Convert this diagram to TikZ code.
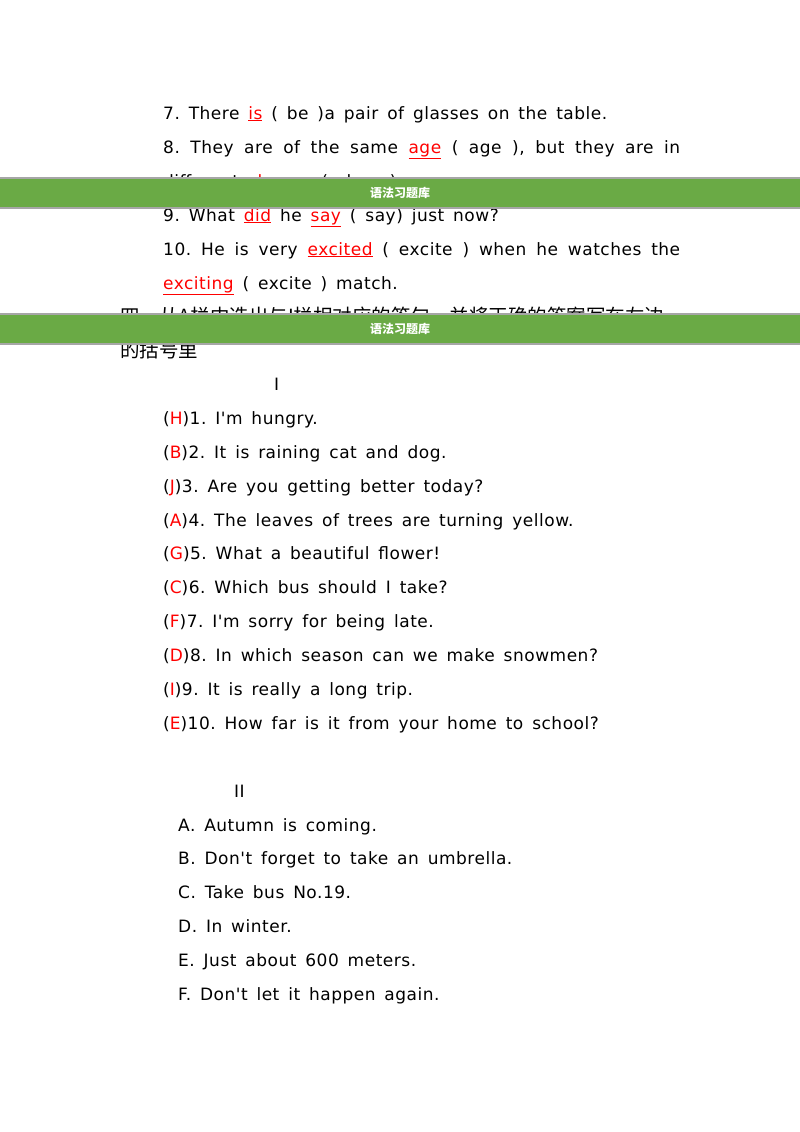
\documentclass[tikz,border=0pt]{standalone}
\usepackage{fontspec}
\defaultfontfeatures[\rmfamily]{}
\setmainfont{DejaVu Sans}[LetterSpace=3,WordSpace=1.5]
\newfontfamily\cjk{Noto Sans CJK SC}
\frenchspacing
\definecolor{bar}{HTML}{6AAA45}
\newcommand{\ans}[1]{\textcolor{red}{\underline{#1}}}
\newcommand{\rd}[1]{\textcolor{red}{#1}}
\tikzset{ln/.style={anchor=base west,inner sep=0pt,font=\fontsize{17}{18}\selectfont},
 banner/.style={fill=bar,draw=gray!70,line width=1.2pt},
 btxt/.style={font=\cjk\bfseries\fontsize{12}{14}\selectfont,text=white}}
\begin{document}
\begin{tikzpicture}[x=1pt,y=-1pt]
\useasboundingbox[fill=white] (0,0) rectangle (800,1132);
\node[ln] (l7) at (163,119) {7. There \ans{is} ( be )a pair of glasses on the table.};
\node[ln] (l8) at (163,153) {\makebox[517pt][s]{8. They are of the same \ans{age} ( age ), but they are in}};
\node[ln] (l8b) at (163,187) {different \ans{classes} ( class ).};
\node[ln] (l9) at (163,221) {9. What \ans{did} he \ans{say} ( say) just now?};
\node[ln] (l10) at (163,255) {\makebox[517pt][s]{10. He is very \ans{excited} ( excite ) when he watches the}};
\node[ln] (l10b) at (163,289) {\ans{exciting} ( excite ) match.};
\node[ln,font=\cjk\fontsize{19.5}{20}\selectfont] (h1) at (120,323) {四、从A栏中选出与I栏相对应的答句，并将正确的答案写在左边};
\node[ln,font=\cjk\fontsize{19.5}{20}\selectfont] (h2) at (120,357) {的括号里};
\node[ln] (t1) at (274,390) {I};
\foreach \y/\l/\t [count=\i] in {424/H/I'm hungry., 458/B/It is raining cat and dog., 492/J/Are you getting better today?, 526/A/The leaves of trees are turning yellow., 559/G/What a beautiful flower!, 593/C/Which bus should I take?, 627/F/I'm sorry for being late., 661/D/In which season can we make snowmen?, 695/I/It is really a long trip., 729/E/How far is it from your home to school?}
  \node[ln] (q\i) at (163,\y) {(\rd{\l})\i. \t};
\node[ln] (t2) at (234,797) {II};
\foreach \y/\l/\t in {831/A/Autumn is coming., 864/B/Don't forget to take an umbrella., 898/C/Take bus No.19., 932/D/In winter., 966/E/Just about 600 meters., 1000/F/Don't let it happen again.}
  \node[ln] (a\l) at (178,\y) {\l. \t};
\draw[banner] (-2,178) rectangle (802,208);
\node[btxt] (b1) at (400,193) {语法习题库};
\draw[banner] (-2,314) rectangle (802,344);
\node[btxt] (b2) at (400,329) {语法习题库};
\end{tikzpicture}
\end{document}
